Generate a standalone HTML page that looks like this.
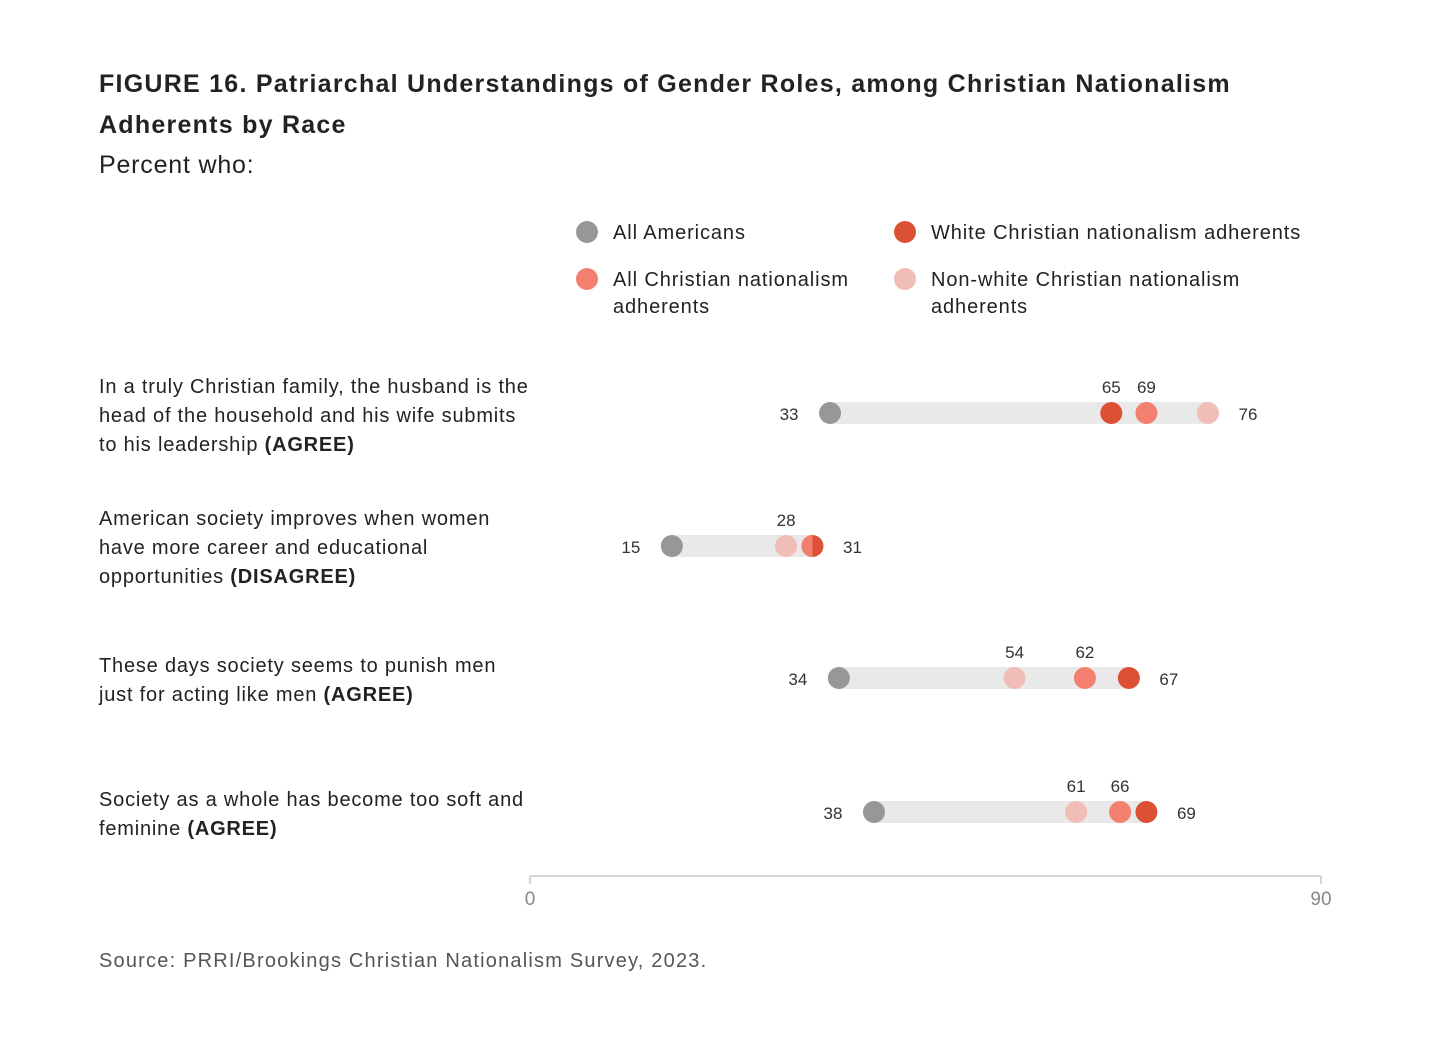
<!DOCTYPE html>
<html><head><meta charset="utf-8"><style>
body{margin:0;background:#fff;width:1456px;height:1032px;overflow:hidden;font-family:"Liberation Sans",sans-serif;color:#222}
</style></head><body>
<svg width="1456" height="1032" style="font-family:'Liberation Sans',sans-serif">
<text x="99" y="92" font-size="25" font-weight="bold" fill="#222" letter-spacing="1.25">FIGURE 16. Patriarchal Understandings of Gender Roles, among Christian Nationalism</text>
<text x="99" y="133" font-size="25" font-weight="bold" fill="#222" letter-spacing="1.25">Adherents by Race</text>
<text x="99" y="173" font-size="25" fill="#222" letter-spacing="0.8">Percent who:</text>
<g font-size="20" fill="#222" letter-spacing="0.9">
<g><circle cx="587" cy="232" r="11" fill="#979797"/><text x="613" y="239">All Americans</text></g>
<g><circle cx="905" cy="232" r="11" fill="#dc5036"/><text x="931" y="239">White Christian nationalism adherents</text></g>
<g><circle cx="587" cy="279" r="11" fill="#f3806f"/><text x="613" y="286">All Christian nationalism</text><text x="613" y="313">adherents</text></g>
<g><circle cx="905" cy="279" r="11" fill="#f0beb6"/><text x="931" y="286">Non-white Christian nationalism</text><text x="931" y="313">adherents</text></g>
</g>
<g font-size="20" fill="#222" letter-spacing="0.8">
<text x="99" y="393"><tspan x="99">In a truly Christian family, the husband is the</tspan><tspan x="99" dy="29">head of the household and his wife submits</tspan><tspan x="99" dy="29">to his leadership <tspan font-weight="bold">(AGREE)</tspan></tspan></text>
<text x="99" y="525"><tspan x="99">American society improves when women</tspan><tspan x="99" dy="29">have more career and educational</tspan><tspan x="99" dy="29">opportunities <tspan font-weight="bold">(DISAGREE)</tspan></tspan></text>
<text x="99" y="672"><tspan x="99">These days society seems to punish men</tspan><tspan x="99" dy="29">just for acting like men <tspan font-weight="bold">(AGREE)</tspan></tspan></text>
<text x="99" y="806"><tspan x="99">Society as a whole has become too soft and</tspan><tspan x="99" dy="29">feminine <tspan font-weight="bold">(AGREE)</tspan></tspan></text>
</g>
<g id="plot"></g>
<line x1="530" y1="876" x2="1321" y2="876" stroke="#d6d6d6" stroke-width="2"/>
<line x1="530" y1="876" x2="530" y2="884" stroke="#d6d6d6" stroke-width="2"/>
<line x1="1321" y1="876" x2="1321" y2="884" stroke="#d6d6d6" stroke-width="2"/>
<text x="530" y="905" font-size="19" fill="#888" text-anchor="middle">0</text>
<text x="1321" y="905" font-size="19" fill="#888" text-anchor="middle">90</text>
<text x="99" y="967" font-size="20" fill="#555" letter-spacing="1.2">Source: PRRI/Brookings Christian Nationalism Survey, 2023.</text>
<defs><clipPath id="lefthalf"><rect x="0" y="0" width="812.5" height="1032"/></clipPath></defs>
</svg>
<script>
const allAmericans=[33,15,34,38];
const whiteCN=[65,31,67,69];
const allCN=[69,31,62,66];
const nonwhiteCN=[76,28,54,61];
const rowY=[413,546,678,812];
const NS='http://www.w3.org/2000/svg';
const xScale=v=>540+v*(791/90);
const plot=document.getElementById('plot');
function mk(tag,attrs){const e=document.createElementNS(NS,tag);for(const k in attrs)e.setAttribute(k,attrs[k]);plot.appendChild(e);return e;}
const series=[
 {name:'all-americans',vals:allAmericans,color:'#979797'},
 {name:'nonwhite-cn',vals:nonwhiteCN,color:'#f0beb6'},
 {name:'white-cn',vals:whiteCN,color:'#dc5036'},
 {name:'all-cn',vals:allCN,color:'#f3806f'}
];
for(let i=0;i<rowY.length;i++){
  const vals=[allAmericans[i],whiteCN[i],allCN[i],nonwhiteCN[i]];
  const mn=Math.min(...vals),mx=Math.max(...vals);
  const bar=mk('rect',{x:xScale(mn),y:rowY[i]-11,width:xScale(mx)-xScale(mn),height:22,fill:'#e9e9e9'});
  
  
  for(const s of series){
    const c=mk('circle',{cx:xScale(s.vals[i]),cy:rowY[i],r:11,fill:s.color});
    if(s.name==='all-cn'&&allCN[i]===whiteCN[i]){c.setAttribute('clip-path','url(#lefthalf)');}
    
    
  }
  const uniq=[...new Set(vals)].sort((a,b)=>a-b);
  uniq.forEach((v,k)=>{
    let t;
    if(k===0)t=mk('text',{x:xScale(v)-41,y:rowY[i]+7,'font-size':17,'text-anchor':'middle',fill:'#333'});
    else if(k===uniq.length-1)t=mk('text',{x:xScale(v)+40,y:rowY[i]+7,'font-size':17,'text-anchor':'middle',fill:'#333'});
    else t=mk('text',{x:xScale(v),y:rowY[i]-20,'font-size':17,'text-anchor':'middle',fill:'#333'});
    t.textContent=v;
    
    
  });
}
</script>
</body></html>
